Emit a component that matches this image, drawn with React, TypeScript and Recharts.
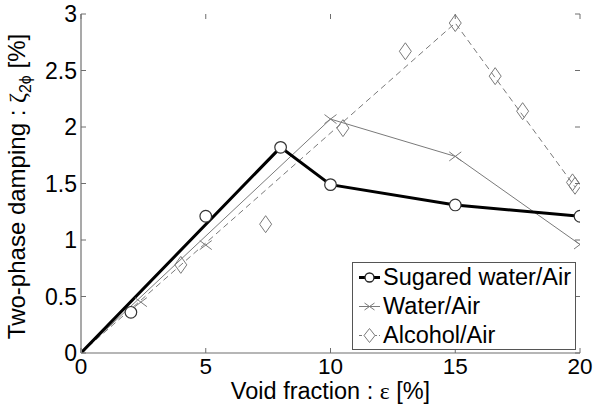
import React from 'react';
import { ComposedChart, Line, Scatter, XAxis, YAxis } from 'recharts';

// ---- data ----
const sugaredMarkX = [2, 5, 8, 10, 15, 20];
const sugaredMarkY = [0.36, 1.21, 1.82, 1.49, 1.31, 1.21];
const sugaredFitX = [0, 8, 10, 15, 20];
const sugaredFitY = [0, 1.82, 1.49, 1.31, 1.21];

const waterMarkX = [2.4, 5, 10, 15, 20];
const waterMarkY = [0.45, 0.955, 2.07, 1.74, 0.96];
const waterFitX = [0, 10, 15, 20];
const waterFitY = [0, 2.07, 1.74, 0.96];

const alcoholMarkX = [4, 7.4, 10.5, 13, 15, 16.6, 17.7, 19.7, 19.8];
const alcoholMarkY = [0.78, 1.14, 1.99, 2.67, 2.92, 2.45, 2.14, 1.51, 1.48];
const alcoholFitX = [0, 15, 19.8];
const alcoholFitY = [0, 2.92, 1.47];

const xTicks = [0, 5, 10, 15, 20];
const yTicks = [0, 0.5, 1, 1.5, 2, 2.5, 3];

const seriesNames = ['Sugared water/Air', 'Water/Air', 'Alcohol/Air'];

const zip = (xs: number[], ys: number[]) => xs.map((x, i) => ({ x, y: ys[i] }));

const sugaredMarks = zip(sugaredMarkX, sugaredMarkY);
const sugaredFit = zip(sugaredFitX, sugaredFitY);
const waterMarks = zip(waterMarkX, waterMarkY);
const waterFit = zip(waterFitX, waterFitY);
const alcoholMarks = zip(alcoholMarkX, alcoholMarkY);
const alcoholFit = zip(alcoholFitX, alcoholFitY);

// ---- layout / style ----
const W = 593;
const H = 408;
const PL = 81;
const PR = 580;
const PT = 14;
const PB = 353;
const FONT = '"Liberation Sans", Arial, sans-serif';
const SERIF = '"Liberation Serif", "DejaVu Serif", serif';
const AXIS_DARK = '#6e6e6e';
const AXIS_LIGHT = '#a9a9a9';
const GRAY = '#7a7a7a';

const XTick = (props: any) => {
  const { x, y, payload } = props;
  return (
    <g>
      <line x1={x} x2={x} y1={PB} y2={PB - 5} stroke={AXIS_DARK} strokeWidth={1} />
      <line x1={x} x2={x} y1={PT} y2={PT + 5} stroke={AXIS_DARK} strokeWidth={1} />
      <text x={x} y={y} dy="0.72em" textAnchor="middle" fontFamily={FONT} fontSize={22.5} fill="#000">
        {payload.value}
      </text>
    </g>
  );
};

const YTick = (props: any) => {
  const { x, y, payload } = props;
  return (
    <g>
      <line x1={PL} x2={PL + 5} y1={y} y2={y} stroke={AXIS_DARK} strokeWidth={1} />
      <line x1={PR - 5} x2={PR} y1={y} y2={y} stroke={AXIS_DARK} strokeWidth={1} />
      <text x={x} y={y} dy="0.36em" textAnchor="end" fontFamily={FONT} fontSize={23} fill="#000">
        {payload.value}
      </text>
    </g>
  );
};

const YLabel = (props: any) => {
  const vb = props.viewBox || { y: PT, height: PB - PT };
  const cy = vb.y + vb.height / 2 + 3;
  const bx = 25;
  return (
    <text
      x={bx}
      y={cy}
      transform={`rotate(-90, ${bx}, ${cy})`}
      textAnchor="middle"
      fontFamily={FONT}
      fontSize={24}
      fill="#000"
    >
      Two-phase damping :{' '}
      <tspan fontFamily={SERIF}>ζ</tspan>
      <tspan fontSize={16} dy={6}>2ϕ</tspan>
      <tspan dy={-6}> [%]</tspan>
    </text>
  );
};

const XLabel = (props: any) => {
  const vb = props.viewBox || { x: PL, width: PR - PL };
  const cx = vb.x + vb.width / 2;
  return (
    <text x={cx} y={399} textAnchor="middle" fontFamily={FONT} fontSize={23.5} fill="#000">
      Void fraction : <tspan fontFamily={SERIF}>ε</tspan> [%]
    </text>
  );
};

const CircleMark = (props: any) => {
  const { cx, cy } = props;
  if (cx == null || cy == null) return null;
  return <circle cx={cx} cy={cy} r={5.8} fill="#fff" stroke="#333" strokeWidth={1.2} />;
};

const CrossMark = (props: any) => {
  const { cx, cy } = props;
  if (cx == null || cy == null) return null;
  const a = 6;
  const b = 4.5;
  return (
    <g stroke={GRAY} strokeWidth={1}>
      <line x1={cx - a} y1={cy - b} x2={cx + a} y2={cy + b} />
      <line x1={cx - a} y1={cy + b} x2={cx + a} y2={cy - b} />
    </g>
  );
};

const DiamondMark = (props: any) => {
  const { cx, cy } = props;
  if (cx == null || cy == null) return null;
  const a = 6;
  const b = 8.5;
  return (
    <path
      d={`M${cx},${cy - b} L${cx + a},${cy} L${cx},${cy + b} L${cx - a},${cy} Z`}
      fill="none"
      stroke={GRAY}
      strokeWidth={1}
    />
  );
};

const LegendBox = () => {
  const rowH = 29;
  const sample = (i: number) => {
    if (i === 0)
      return (
        <svg width={24} height={rowH}>
          <line x1={1} x2={22} y1={rowH / 2} y2={rowH / 2} stroke="#000" strokeWidth={3} />
          <circle cx={11.5} cy={rowH / 2} r={4.5} fill="#fff" stroke="#222" strokeWidth={1.3} />
        </svg>
      );
    if (i === 1)
      return (
        <svg width={24} height={rowH}>
          <line x1={1} x2={22} y1={rowH / 2} y2={rowH / 2} stroke={GRAY} strokeWidth={1} />
          <line x1={6.5} x2={16.5} y1={rowH / 2 - 3.5} y2={rowH / 2 + 3.5} stroke={GRAY} />
          <line x1={6.5} x2={16.5} y1={rowH / 2 + 3.5} y2={rowH / 2 - 3.5} stroke={GRAY} />
        </svg>
      );
    return (
      <svg width={24} height={rowH}>
        <line x1={1} x2={22} y1={rowH / 2} y2={rowH / 2} stroke={GRAY} strokeWidth={1} strokeDasharray="3 2" />
        <path
          d={`M11.5,${rowH / 2 - 7} L17,${rowH / 2} L11.5,${rowH / 2 + 7} L6,${rowH / 2} Z`}
          fill="#fff"
          stroke={GRAY}
        />
      </svg>
    );
  };
  return (
    <div
      style={{
        position: 'absolute',
        left: 352,
        top: 262,
        width: 224,
        height: 88,
        boxSizing: 'border-box',
        border: '1px solid #555',
        background: '#fff',
      }}
    >
      {seriesNames.map((name, i) => (
        <div
          key={name}
          style={{
            display: 'flex',
            alignItems: 'center',
            height: rowH,
            fontFamily: FONT,
            fontSize: 23.5,
            color: '#000',
            lineHeight: `${rowH}px`,
            whiteSpace: 'nowrap',
          }}
        >
          <div style={{ width: 5 }} />
          {sample(i)}
          <span style={{ marginLeft: 1 }}>{name}</span>
        </div>
      ))}
    </div>
  );
};

export default function App() {
  return (
    <div style={{ position: 'absolute', left: 0, top: 0, width: W, height: H, background: '#fff' }}>
      <ComposedChart width={W} height={H} margin={{ top: PT, right: W - PR, left: 0, bottom: 0 }}>
        <XAxis
          dataKey="x"
          type="number"
          domain={[0, 20]}
          ticks={xTicks}
          allowDataOverflow
          height={H - PB}
          tickSize={0}
          tickMargin={5}
          tickLine={false}
          axisLine={{ stroke: AXIS_DARK, strokeWidth: 1.2 }}
          tick={<XTick />}
          label={<XLabel />}
        />
        <XAxis
          xAxisId="top"
          orientation="top"
          dataKey="x"
          type="number"
          domain={[0, 20]}
          allowDataOverflow
          height={0}
          tick={false}
          tickLine={false}
          axisLine={{ stroke: AXIS_DARK, strokeWidth: 1 }}
        />
        <YAxis
          dataKey="y"
          type="number"
          domain={[0, 3]}
          ticks={yTicks}
          allowDataOverflow
          width={PL}
          tickSize={0}
          tickMargin={4}
          tickLine={false}
          axisLine={{ stroke: AXIS_LIGHT, strokeWidth: 2 }}
          tick={<YTick />}
          label={<YLabel />}
        />
        <YAxis
          yAxisId="right"
          orientation="right"
          dataKey="y"
          type="number"
          domain={[0, 3]}
          allowDataOverflow
          width={0}
          tick={false}
          tickLine={false}
          axisLine={{ stroke: AXIS_DARK, strokeWidth: 1 }}
        />
        <Line
          data={alcoholFit}
          dataKey="y"
          type="linear"
          stroke={GRAY}
          strokeWidth={1}
          strokeDasharray="6 4"
          dot={false}
          activeDot={false}
          isAnimationActive={false}
          name="Alcohol/Air fit"
        />
        <Line
          data={waterFit}
          dataKey="y"
          type="linear"
          stroke={GRAY}
          strokeWidth={1}
          dot={false}
          activeDot={false}
          isAnimationActive={false}
          name="Water/Air fit"
        />
        <Line
          data={sugaredFit}
          dataKey="y"
          type="linear"
          stroke="#000"
          strokeWidth={3}
          dot={false}
          activeDot={false}
          isAnimationActive={false}
          name="Sugared water/Air fit"
        />
        <Scatter data={alcoholMarks} dataKey="y" shape={<DiamondMark />} isAnimationActive={false} name="Alcohol/Air" />
        <Scatter data={waterMarks} dataKey="y" shape={<CrossMark />} isAnimationActive={false} name="Water/Air" />
        <Scatter data={sugaredMarks} dataKey="y" shape={<CircleMark />} isAnimationActive={false} name="Sugared water/Air" />
      </ComposedChart>
      <LegendBox />
    </div>
  );
}
